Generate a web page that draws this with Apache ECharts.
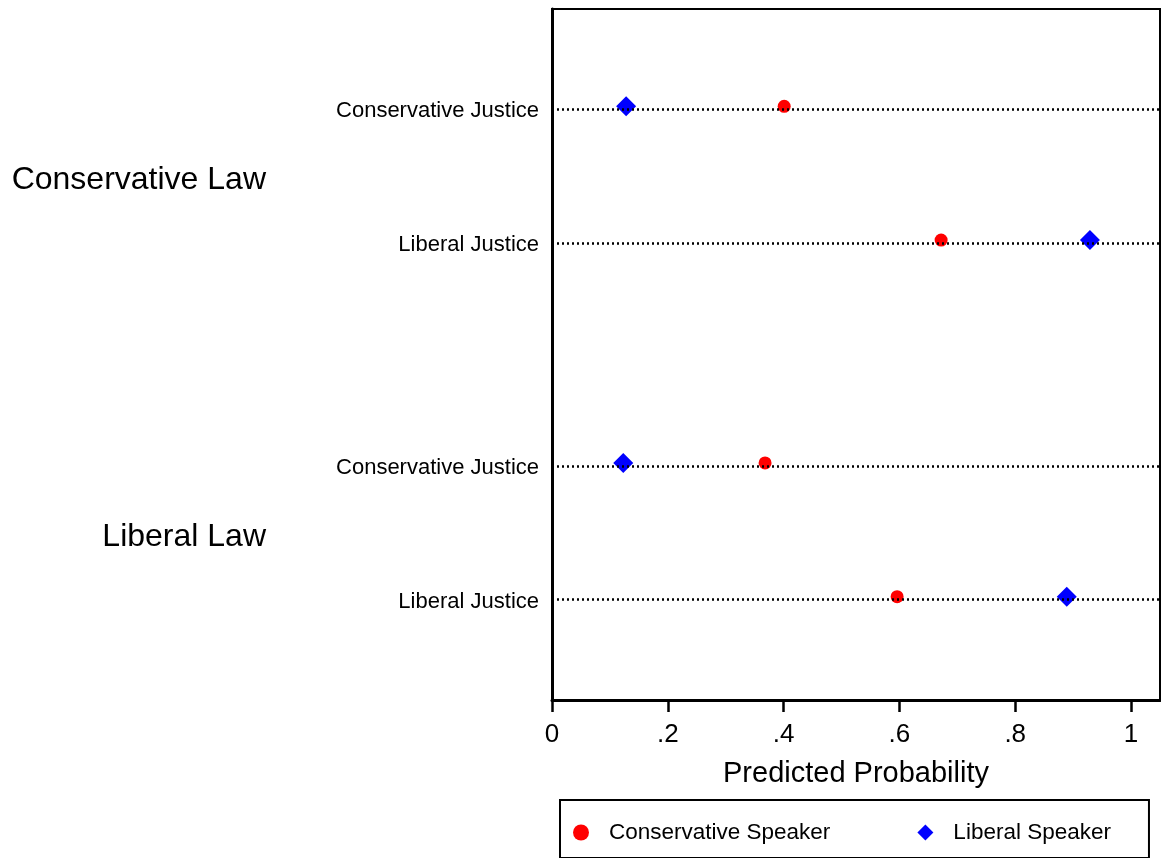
<!DOCTYPE html>
<html><head><meta charset="utf-8">
<script src="https://cdn.jsdelivr.net/npm/echarts@6/dist/echarts.min.js"></script>
<style>html,body{margin:0;padding:0;background:#fff}#c{width:1161px;height:858px}</style>
</head><body><div id="c"></div>
<script>
const groups = ['Conservative Law', 'Liberal Law'];
const justices = ['Conservative Justice', 'Liberal Justice'];
// values ordered: group 1 (justice 1, justice 2), group 2 (justice 1, justice 2)
const conservativeSpeaker = [0.401, 0.672, 0.368, 0.596];
const liberalSpeaker = [0.128, 0.929, 0.123, 0.889];
const xTickLabels = ['0', '.2', '.4', '.6', '.8', '1'];
const seriesNames = ['Conservative Speaker', 'Liberal Speaker'];

// category slots (blank spacers give the Stata-like gaps)
const cats = [];
const rowKeys = [];
const pad = n => { for (let i = 0; i < n; i++) cats.push('pad' + cats.length); };
pad(4);
groups.forEach((g, gi) => {
  const k1 = g + '|' + justices[0];
  const k2 = g + '|' + justices[1];
  rowKeys.push(k1); cats.push(k1);
  pad(2); cats.push('group|' + g); pad(2);
  rowKeys.push(k2); cats.push(k2);
  if (gi < groups.length - 1) pad(9);
});
pad(4);

const FONT = '"Liberation Sans", Arial, Helvetica, sans-serif';
const DIAMOND = 'path://M0,-1L1,0L0,1L-1,0Z';
const chart = echarts.init(document.getElementById('c'));
chart.setOption({
  animation: false,
  backgroundColor: '#fff',
  textStyle: { fontFamily: FONT, color: '#000' },
  grid: {
    left: 552, right: 1, top: 9, bottom: 158,
    show: true, borderColor: '#000', borderWidth: 2, backgroundColor: '#fff'
  },
  xAxis: {
    type: 'value', min: 0, max: 1.05, interval: 0.2,
    axisLine: { show: true, lineStyle: { color: '#000', width: 3 } },
    axisTick: { show: true, length: 12, lineStyle: { color: '#000', width: 2.5 } },
    splitLine: { show: false },
    axisLabel: {
      fontSize: 26, color: '#000', fontFamily: FONT, margin: 22,
      showMaxLabel: false,
      formatter: v => {
        const i = Math.round(v / 0.2);
        return Math.abs(v - i * 0.2) < 1e-6 && i < xTickLabels.length ? xTickLabels[i] : '';
      }
    },
    name: 'Predicted Probability', nameLocation: 'middle', nameGap: 59,
    nameTextStyle: { fontSize: 29, color: '#000', fontFamily: FONT }
  },
  yAxis: {
    type: 'category', data: cats, inverse: true,
    axisLine: { show: true, lineStyle: { color: '#000', width: 3 } },
    axisTick: { show: false },
    splitLine: { show: false },
    axisLabel: {
      interval: 0, fontSize: 22, color: '#000', fontFamily: FONT, margin: 13,
      formatter: v => {
        if (v.startsWith('pad')) return '';
        if (v.startsWith('group|')) return '{grp|' + v.slice(6) + '}';
        return '{row|' + v.split('|')[1] + '}';
      },
      rich: {
        grp: { fontSize: 32, color: '#000', fontFamily: FONT, padding: [8, 273, 0, 0] },
        row: { fontSize: 22, color: '#000', fontFamily: FONT, padding: [4, 0, 0, 0] }
      }
    }
  },
  legend: {
    data: [
      { name: seriesNames[0], icon: 'circle' },
      { name: seriesNames[1], icon: DIAMOND }
    ],
    left: 560, top: 800,
    orient: 'horizontal',
    itemWidth: 18, itemHeight: 16, itemGap: 87,
    symbolKeepAspect: true,
    padding: [21, 38, 14, 13],
    borderColor: '#000', borderWidth: 2,
    textStyle: { fontSize: 22.5, color: '#000', fontFamily: FONT, padding: [0, 0, 0, 14] }
  },
  series: [
    {
      type: 'line', data: [], z: 1, silent: true,
      markLine: {
        silent: true, symbol: 'none', animation: false,
        label: { show: false },
        lineStyle: { color: '#000', type: [2, 3], width: 2.5 },
        data: rowKeys.map(k => ({ yAxis: k }))
      }
    },
    {
      name: seriesNames[0], type: 'scatter', z: 3,
      symbol: 'circle', symbolSize: 13, symbolOffset: [0, -3],
      itemStyle: { color: '#ff0000', opacity: 1 },
      data: conservativeSpeaker.map((v, i) => [v, rowKeys[i]])
    },
    {
      name: seriesNames[1], type: 'scatter', z: 3,
      symbol: 'diamond', symbolSize: 20, symbolOffset: [0, -3],
      itemStyle: { color: '#0000ff', opacity: 1 },
      data: liberalSpeaker.map((v, i) => [v, rowKeys[i]])
    }
  ]
});
</script></body></html>
